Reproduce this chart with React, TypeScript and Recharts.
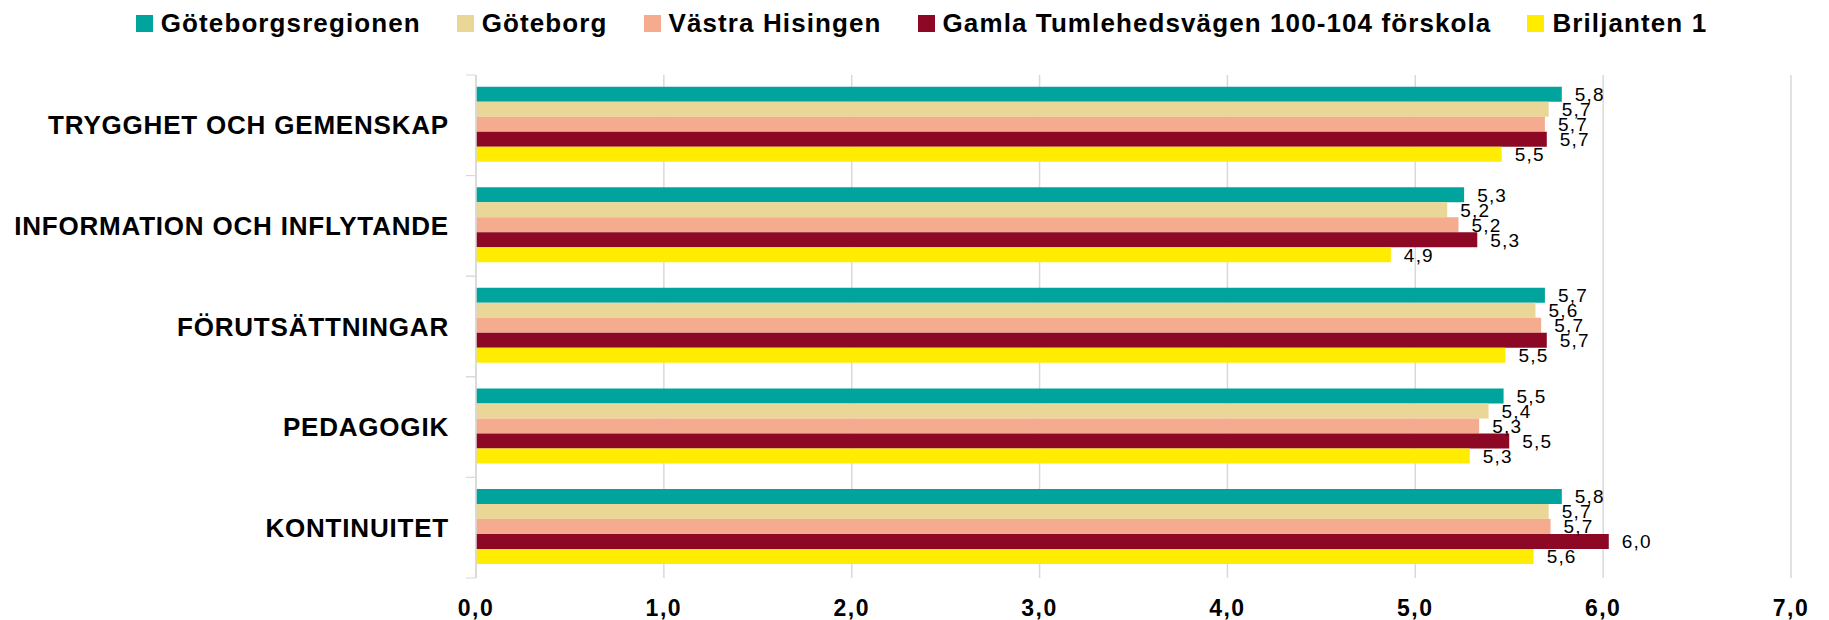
import React from 'react';
import { BarChart, Bar, XAxis, YAxis, CartesianGrid, Legend, LabelList } from 'recharts';

// Categories (top to bottom)
const categories = [
  'TRYGGHET OCH GEMENSKAP',
  'INFORMATION OCH INFLYTANDE',
  'FÖRUTSÄTTNINGAR',
  'PEDAGOGIK',
  'KONTINUITET',
];

// Series values
const goteborgsregionen = [5.78, 5.26, 5.69, 5.47, 5.78];
const goteborg = [5.71, 5.17, 5.64, 5.39, 5.71];
const vastraHisingen = [5.69, 5.23, 5.67, 5.34, 5.72];
const gamlaTumlehedsvagen = [5.7, 5.33, 5.7, 5.5, 6.03];
const briljanten = [5.46, 4.87, 5.48, 5.29, 5.63];

const xTicks = [0, 1, 2, 3, 4, 5, 6, 7];

const series = [
  { key: 'gr', name: 'Göteborgsregionen', color: '#00A49C', values: goteborgsregionen },
  { key: 'gbg', name: 'Göteborg', color: '#EAD797', values: goteborg },
  { key: 'vh', name: 'Västra Hisingen', color: '#F5AC8E', values: vastraHisingen },
  { key: 'gt', name: 'Gamla Tumlehedsvägen 100-104 förskola', color: '#8C0825', values: gamlaTumlehedsvagen },
  { key: 'br', name: 'Briljanten 1', color: '#FFEC00', values: briljanten },
];

const data = categories.map((cat, i) => {
  const row: Record<string, string | number> = { category: cat };
  series.forEach(s => {
    row[s.key] = s.values[i];
  });
  return row;
});

const WIDTH = 1829;
const HEIGHT = 620;
const MARGIN = { top: 75, right: 38, bottom: 0, left: 10 };
const X_AXIS_HEIGHT = 42;
const Y_AXIS_WIDTH = 466;
const TICK_GAP = 27;
const BAND = (HEIGHT - MARGIN.top - MARGIN.bottom - X_AXIS_HEIGHT) / categories.length;

const fmt = (v: number) => v.toFixed(1).replace('.', ',');

const CategoryTick = (props: any) => {
  const { x, y, payload } = props;
  const axisX = x + TICK_GAP;
  return (
    <g>
      <line x1={axisX - 10} x2={axisX} y1={y - BAND / 2} y2={y - BAND / 2} stroke="#d9d9d9" />
      <line x1={axisX - 10} x2={axisX} y1={y + BAND / 2} y2={y + BAND / 2} stroke="#d9d9d9" />
      <text
        x={x}
        y={y}
        textAnchor="end"
        dominantBaseline="central"
        fontFamily="'Liberation Sans', Arial, sans-serif"
        fontWeight="bold"
        fontSize={26}
        letterSpacing={0.8}
        fill="#000"
      >
        {payload.value}
      </text>
    </g>
  );
};

const LegendContent = () => (
  <div
    style={{
      display: 'flex',
      justifyContent: 'center',
      alignItems: 'center',
      gap: 36,
      paddingLeft: 14,
      fontFamily: "'Liberation Sans', Arial, sans-serif",
      fontWeight: 'bold',
      fontSize: 26,
      letterSpacing: 1.1,
      color: '#000',
    }}
  >
    {series.map(s => (
      <div key={s.key} style={{ display: 'flex', alignItems: 'center' }}>
        <span style={{ display: 'inline-block', width: 17, height: 17, background: s.color, marginRight: 8 }} />
        <span>{s.name}</span>
      </div>
    ))}
  </div>
);

const App: React.FC = () => {
  return (
    <div style={{ position: 'absolute', left: 0, top: 0, background: '#fff' }}>
      <BarChart
        width={WIDTH}
        height={HEIGHT}
        data={data}
        layout="vertical"
        margin={MARGIN}
        barCategoryGap="11.6%"
        barGap={0}
      >
        <CartesianGrid horizontal={false} stroke="#d9d9d9" strokeWidth={1.5} />
        <XAxis
          type="number"
          domain={[0, 7]}
          ticks={xTicks}
          tickFormatter={fmt}
          axisLine={false}
          tickLine={false}
          tickSize={0}
          tickMargin={22}
          height={X_AXIS_HEIGHT}
          tick={{
            fill: '#000',
            fontSize: 23,
            fontWeight: 'bold',
            fontFamily: "'Liberation Sans', Arial, sans-serif",
            letterSpacing: 1.5,
          }}
        />
        <YAxis
          type="category"
          dataKey="category"
          width={Y_AXIS_WIDTH}
          axisLine={{ stroke: '#d9d9d9', strokeWidth: 1.5 }}
          tickLine={false}
          tickSize={0}
          tickMargin={TICK_GAP}
          tick={<CategoryTick />}
          interval={0}
        />
        <Legend
          verticalAlign="middle"
          content={<LegendContent />}
          wrapperStyle={{ top: 8, left: 0, width: WIDTH }}
        />
        {series.map(s => (
          <Bar key={s.key} dataKey={s.key} name={s.name} fill={s.color} isAnimationActive={false}>
            <LabelList
              dataKey={s.key}
              position="right"
              offset={13}
              formatter={(v: any) => fmt(Number(v))}
              style={{
                fill: '#000',
                fontSize: 19,
                fontFamily: "'Liberation Sans', Arial, sans-serif",
                letterSpacing: 1.2,
              }}
            />
          </Bar>
        ))}
      </BarChart>
    </div>
  );
};

export default App;
